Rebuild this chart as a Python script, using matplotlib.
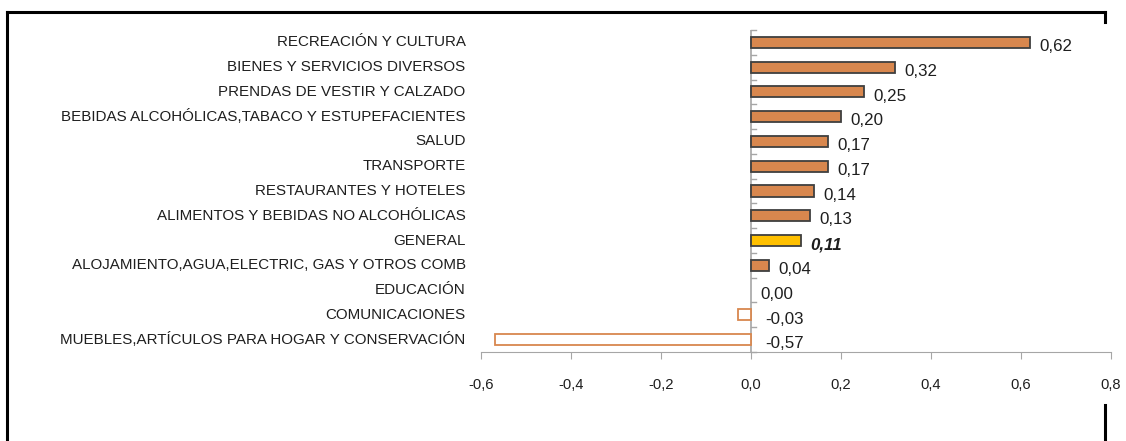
import matplotlib
matplotlib.use("Agg")
import matplotlib.pyplot as plt
from matplotlib.lines import Line2D

plt.rcParams['font.family'] = ['Liberation Sans', 'DejaVu Sans']

categories = [
    "RECREACIÓN Y CULTURA",
    "BIENES Y SERVICIOS DIVERSOS",
    "PRENDAS DE VESTIR Y CALZADO",
    "BEBIDAS ALCOHÓLICAS,TABACO Y ESTUPEFACIENTES",
    "SALUD",
    "TRANSPORTE",
    "RESTAURANTES Y HOTELES",
    "ALIMENTOS Y BEBIDAS NO ALCOHÓLICAS",
    "GENERAL",
    "ALOJAMIENTO,AGUA,ELECTRIC, GAS Y OTROS COMB",
    "EDUCACIÓN",
    "COMUNICACIONES",
    "MUEBLES,ARTÍCULOS PARA HOGAR Y CONSERVACIÓN",
]
values = [0.62, 0.32, 0.25, 0.20, 0.17, 0.17, 0.14, 0.13, 0.11, 0.04, 0.00, -0.03, -0.57]
x_ticks = [-0.6, -0.4, -0.2, 0.0, 0.2, 0.4, 0.6, 0.8]
highlight = "GENERAL"

orange = "#D8874E"
gold = "#FFC000"
edge_dark = "#3F3F3F"
axis_gray = "#A6A6A6"
text_col = "#1E1E1E"
fs_cat = 10.9
fs_val = 12.2
fs_tick = 10.6

fig = plt.figure(figsize=(11.26, 4.41), dpi=100)
ax = fig.add_axes([481 / 1126, 1 - 352 / 441, 630 / 1126, 322 / 441])

n = len(categories)
ypos = list(range(n))
for y, cat, v in zip(ypos, categories, values):
    if v < 0:
        face, edge = "white", orange
    elif cat == highlight:
        face, edge = gold, edge_dark
    else:
        face, edge = orange, edge_dark
    if v != 0:
        ax.barh(y, v, height=0.45, color=face, edgecolor=edge, linewidth=1.3, zorder=3)
    label = f"{v:.2f}".replace(".", ",")
    xl = max(v, 0)
    off = 7 if v >= 0 else 10
    bold = cat == highlight
    ax.annotate(label, (xl, y), xytext=(off, -3), textcoords="offset points",
                ha="left", va="center", fontsize=fs_val, color=text_col,
                fontweight="bold" if bold else "normal",
                fontstyle="italic" if bold else "normal", annotation_clip=False)

ax.set_xlim(x_ticks[0], x_ticks[-1])
ax.set_ylim(n - 0.5, -0.5)
ax.set_xticks(x_ticks)
ax.set_xticklabels([f"{t:.1f}".replace(".", ",") for t in x_ticks], fontsize=fs_tick, color=text_col)
ax.tick_params(axis="x", length=5, color=axis_gray, pad=14)

# category names on the left edge, small ticks between categories on the zero line
ax.set_yticks([])
for i in range(n + 1):
    ax.plot([0, 0.012], [i - 0.5, i - 0.5], color=axis_gray, lw=1, zorder=2, clip_on=False)
for y, cat in zip(ypos, categories):
    ax.annotate(cat, (x_ticks[0], y), xytext=(-11, 0), textcoords="offset points",
                ha="right", va="center", fontsize=fs_cat, color=text_col, annotation_clip=False)

for s in ["top", "right", "left"]:
    ax.spines[s].set_visible(False)
ax.spines["bottom"].set_color(axis_gray)
ax.axvline(0, color=axis_gray, lw=1.2, zorder=2)

# outer frame pieces
W, H = 1126, 441
def fl(xs, ys):
    fig.add_artist(Line2D([x / W for x in xs], [1 - y / H for y in ys],
                          color="black", lw=2.2, solid_capstyle="projecting"))
fl([7, 7], [12, 441])
fl([7, 1105], [12, 12])
fl([1105, 1105], [12, 22])
fl([1105, 1105], [405, 441])

fig.savefig("out.png", dpi=100, facecolor="white")
